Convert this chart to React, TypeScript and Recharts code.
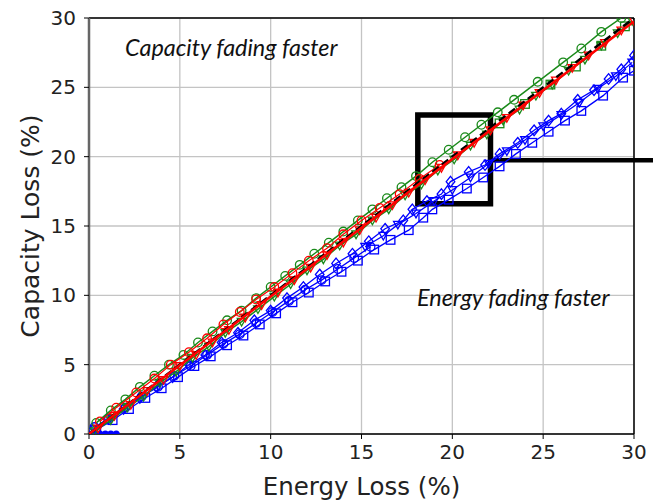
import { CartesianGrid, Label, ReferenceArea, ReferenceLine, Scatter, ScatterChart, XAxis, YAxis } from "recharts";

type Pt = [number, number];

const ticks = [0, 5, 10, 15, 20, 25, 30];

const parityLine: Pt[] = [[0, 0], [30, 30]];
const redFit: Pt[] = [[0, 0], [30, 29.75]];

const greenCircles: Pt[] = [
  [0.4, 0.8], [1.2, 1.7], [2.0, 2.5], [2.8, 3.4], [3.6, 4.2], [4.4, 5.0], [5.2, 5.7], [6.0, 6.6],
  [6.8, 7.4], [7.6, 8.2], [8.4, 8.9], [9.2, 9.8], [10.0, 10.6], [10.8, 11.4], [11.6, 12.2], [12.4, 13.0],
  [13.2, 13.8], [14.0, 14.6], [14.8, 15.4], [15.6, 16.2], [16.4, 17.0], [17.2, 17.8], [18.0, 18.6],
  [18.9, 19.6], [19.8, 20.5], [20.7, 21.4], [21.6, 22.3], [22.5, 23.2], [23.4, 24.1], [24.7, 25.4],
  [26.1, 26.8], [27.1, 27.8], [28.2, 29.0], [29.3, 30.0],
];

const greenTriangles: Pt[] = [
  [0.3, 0.2], [1.2, 1.0], [2.1, 1.9], [3.0, 2.7], [3.9, 3.7], [4.8, 4.5], [5.7, 5.5], [6.6, 6.3],
  [7.5, 7.3], [8.4, 8.1], [9.3, 9.0], [10.2, 9.9], [11.1, 10.8], [12.0, 11.8], [12.9, 12.6], [13.8, 13.6],
  [14.7, 14.4], [15.6, 15.4], [16.5, 16.2], [17.4, 17.2], [18.3, 18.0], [19.2, 19.0], [20.1, 19.8],
  [21.0, 20.8], [21.9, 21.6], [22.8, 22.6], [23.7, 23.4], [24.6, 24.4], [25.5, 25.2], [26.4, 26.2],
  [27.3, 27.0], [28.2, 28.0], [29.1, 28.9], [29.9, 29.8],
];

const greenSquares: Pt[] = [
  [22.6, 22.4], [24.0, 23.8], [25.4, 25.2], [26.8, 26.5], [28.2, 28.0], [29.5, 29.4],
];

const redTriangles: Pt[] = [
  [0.5, 0.4], [1.4, 1.3], [2.3, 2.1], [3.2, 3.1], [4.1, 3.9], [5.0, 4.9], [5.9, 5.7], [6.8, 6.6],
  [7.7, 7.5], [8.6, 8.4], [9.5, 9.3], [10.4, 10.2], [11.3, 11.1], [12.2, 12.0], [13.1, 12.9], [14.0, 13.8],
  [14.9, 14.7], [15.8, 15.6], [16.7, 16.5], [17.6, 17.4], [18.5, 18.3], [19.4, 19.2], [20.3, 20.1],
  [21.2, 21.0], [22.1, 21.9], [23.0, 22.8], [23.9, 23.7], [24.8, 24.6], [25.7, 25.5], [26.6, 26.4],
  [27.5, 27.3], [28.4, 28.2], [29.3, 29.1], [30.0, 29.8],
];

const redCircles: Pt[] = [
  [0.6, 0.9], [1.5, 1.9], [2.6, 3.0], [3.6, 4.0], [4.5, 5.0], [5.5, 5.9], [6.5, 6.9], [7.4, 7.9],
  [8.3, 8.8], [9.2, 9.7], [10.2, 10.6], [11.2, 11.6], [12.1, 12.5], [13.1, 13.4], [14.0, 14.4],
  [15.0, 15.4], [16.0, 16.3], [17.1, 17.3], [18.2, 18.4], [19.3, 19.4],
];

const blueDiamonds: Pt[] = [
  [0.2, 0.3], [1.0, 1.1], [1.9, 1.8], [2.8, 2.6], [3.7, 3.4], [4.6, 4.1], [5.5, 5.0], [6.4, 5.7],
  [7.3, 6.6], [8.2, 7.3], [9.1, 8.2], [10.0, 8.9], [10.9, 9.8], [11.8, 10.6], [12.7, 11.5], [13.6, 12.3],
  [14.5, 13.0], [15.4, 13.9], [16.3, 14.8], [17.3, 15.4], [17.8, 16.2], [18.6, 16.8], [19.4, 17.3],
  [19.9, 18.2], [20.9, 18.9], [21.8, 19.4], [22.6, 20.2], [23.6, 21.0], [24.5, 21.9], [25.3, 22.6],
  [26.0, 23.1], [26.9, 24.1], [27.8, 24.8], [28.6, 25.6], [29.3, 26.3], [30.0, 27.3],
];

const blueSquares: Pt[] = [
  [0.4, 0.3], [1.3, 1.0], [2.2, 1.8], [3.1, 2.6], [4.0, 3.3], [4.9, 4.1], [5.8, 4.9], [6.7, 5.6],
  [7.6, 6.4], [8.5, 7.1], [9.4, 7.9], [10.3, 8.7], [11.2, 9.5], [12.1, 10.2], [13.0, 11.0], [13.9, 11.7],
  [14.8, 12.5], [15.7, 13.3], [16.6, 14.0], [17.6, 14.7], [18.4, 15.6], [18.9, 16.2], [19.8, 16.9],
  [20.8, 17.7], [21.7, 18.5], [22.6, 19.3], [23.5, 20.2], [24.4, 21.0], [25.3, 21.8], [26.2, 22.6],
  [27.1, 23.3], [28.3, 24.4], [29.4, 25.7], [30.0, 26.2],
];

const blueCircles: Pt[] = [
  [0.3, 0.5], [1.1, 1.1], [2.0, 1.9], [2.9, 2.7], [3.8, 3.4], [4.7, 4.2], [5.6, 4.9], [6.5, 5.7],
  [7.4, 6.5], [8.3, 7.2], [9.2, 8.0], [10.1, 8.8], [11.0, 9.6], [11.9, 10.4], [12.8, 11.1], [13.7, 11.9],
  [14.6, 12.7], [15.5, 13.5],
];

const blueTriangles: Pt[] = [
  [15.2, 13.5], [16.2, 14.3], [17.0, 15.1], [18.0, 15.9], [19.0, 16.8], [20.0, 17.6], [21.0, 18.5],
  [22.0, 19.5], [23.0, 20.4], [24.0, 21.2], [25.0, 22.2], [26.0, 23.0], [27.0, 23.9], [28.0, 24.9],
  [29.0, 25.8], [29.9, 26.8],
];

const blueStart: Pt[] = [[0.3, 0], [0.6, 0], [0.9, 0], [1.2, 0], [1.5, 0]];

const GREEN = "#1a8a1a";
const RED = "#ff0000";
const BLUE = "#0000ff";

const toRows = (pts: Pt[]) => pts.map(([x, y]) => ({ x, y }));

const marker = (kind: string, color: string, r = 4.3) => (p: any) => {
  const { cx, cy } = p;
  if (cx == null || cy == null) return <g />;
  const common = { fill: "none", stroke: color, strokeWidth: 1.3 };
  if (kind === "circle") return <circle cx={cx} cy={cy} r={r} {...common} />;
  if (kind === "square") return <rect x={cx - r} y={cy - r} width={2 * r} height={2 * r} {...common} />;
  if (kind === "diamond")
    return <polygon points={`${cx},${cy - r - 1} ${cx + r},${cy} ${cx},${cy + r + 1} ${cx - r},${cy}`} {...common} />;
  if (kind === "tri")
    return <polygon points={`${cx - r},${cy - r + 1} ${cx + r},${cy - r + 1} ${cx},${cy + r}`} {...common} />;
  if (kind === "filled") return <circle cx={cx} cy={cy} r={r} fill={color} />;
  return <g />;
};

const noMarker = () => <g />;

const tickStyle = { fontFamily: "DejaVu Sans", fontSize: 20, fill: "#222" };

const noteStyle = {
  position: "absolute" as const,
  fontFamily: "Lato",
  fontStyle: "italic",
  fontSize: 23.4,
  color: "#111",
  whiteSpace: "nowrap" as const,
  lineHeight: "28px",
};

export default function App() {
  return (
    <div style={{ position: "absolute", left: 0, top: 0, background: "#fff" }}>
      <ScatterChart width={653} height={502} margin={{ top: 18, right: 19, bottom: 0, left: 0 }}>
        <CartesianGrid stroke="#c4c4c4" strokeWidth={1.3} />
        <XAxis
          type="number"
          dataKey="x"
          domain={[0, 30]}
          ticks={ticks}
          allowDataOverflow
          height={68}
          tick={tickStyle}
          tickSize={5}
          tickMargin={6}
          stroke="#000"
          axisLine={{ stroke: "#000", strokeWidth: 1.5 }}
        >
          <Label
            value="Energy Loss (%)"
            position="insideBottom"
            offset={7}
            style={{ fontFamily: "DejaVu Sans", fontSize: 24.5, fill: "#222" }}
          />
        </XAxis>
        <YAxis
          type="number"
          dataKey="y"
          domain={[0, 30]}
          ticks={ticks}
          allowDataOverflow
          width={89}
          tick={tickStyle}
          tickSize={5}
          tickMargin={8}
          stroke="#000"
          axisLine={{ stroke: "#666", strokeWidth: 2.5 }}
        >
          <Label
            value="Capacity Loss (%)"
            angle={-90}
            position="insideLeft"
            offset={30}
            style={{ fontFamily: "DejaVu Sans", fontSize: 25, fill: "#222", textAnchor: "middle" }}
          />
        </YAxis>
        <ReferenceLine y={30} stroke="#000" strokeWidth={1.5} />
        <ReferenceLine x={30} stroke="#000" strokeWidth={1.5} />

        <Scatter data={toRows(blueStart)} shape={marker("filled", BLUE, 3.5)} isAnimationActive={false} />
        <Scatter data={toRows(blueCircles)} shape={marker("circle", BLUE)} line={{ stroke: BLUE, strokeWidth: 1.3 }} isAnimationActive={false} />
        <Scatter data={toRows(blueTriangles)} shape={marker("tri", BLUE)} line={{ stroke: BLUE, strokeWidth: 1.3 }} isAnimationActive={false} />
        <Scatter data={toRows(blueSquares)} shape={marker("square", BLUE)} line={{ stroke: BLUE, strokeWidth: 1.3 }} isAnimationActive={false} />
        <Scatter data={toRows(blueDiamonds)} shape={marker("diamond", BLUE)} line={{ stroke: BLUE, strokeWidth: 1.3 }} isAnimationActive={false} />

        <Scatter data={toRows(greenTriangles)} shape={marker("tri", GREEN)} line={{ stroke: GREEN, strokeWidth: 1.5 }} isAnimationActive={false} />
        <Scatter data={toRows(greenSquares)} shape={marker("square", GREEN)} isAnimationActive={false} />
        <Scatter data={toRows(greenCircles)} shape={marker("circle", GREEN)} line={{ stroke: GREEN, strokeWidth: 1.5 }} isAnimationActive={false} />

        <Scatter data={toRows(redCircles)} shape={marker("circle", RED)} line={{ stroke: RED, strokeWidth: 1.2 }} isAnimationActive={false} />
        <Scatter data={toRows(redTriangles)} shape={marker("tri", RED)} isAnimationActive={false} />
        <Scatter data={toRows(parityLine)} shape={noMarker} line={{ stroke: "#000", strokeWidth: 2.5, strokeDasharray: "8 4" }} isAnimationActive={false} />
        <Scatter data={toRows(redFit)} shape={noMarker} line={{ stroke: RED, strokeWidth: 2.5 }} isAnimationActive={false} />

        <ReferenceArea x1={18.1} x2={22.1} y1={16.6} y2={23.0} fill="none" fillOpacity={0} stroke="#000" strokeWidth={5.5} />
        <ReferenceLine
          segment={[{ x: 22.1, y: 19.75 }, { x: 31.1, y: 19.75 }]}
          stroke="#000"
          strokeWidth={4.5}
          ifOverflow="visible"
        />
      </ScatterChart>
      <div style={{ ...noteStyle, left: 125, top: 33 }}>Capacity fading faster</div>
      <div style={{ ...noteStyle, left: 417, top: 283 }}>Energy fading faster</div>
    </div>
  );
}
